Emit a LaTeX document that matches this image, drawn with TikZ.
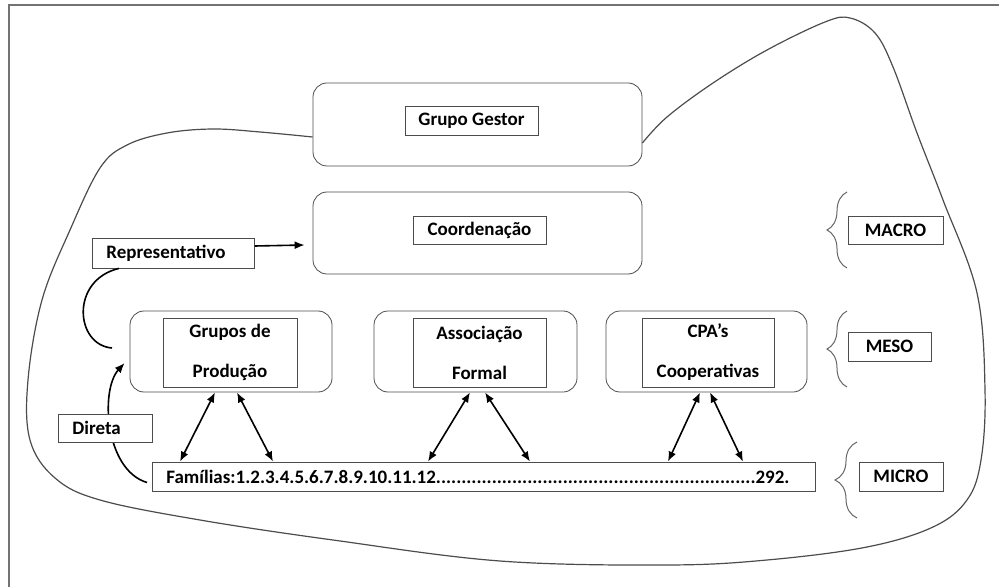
\documentclass[tikz,border=0pt]{standalone}
\usepackage{fontspec}
\setmainfont{Carlito}
\usetikzlibrary{arrows.meta,decorations.pathreplacing}

\begin{document}
\begin{tikzpicture}
    [x=0.5pt,y=-0.5pt,
     font=\bfseries\fontsize{9.5}{11}\selectfont,
     panel/.style={draw=black!70,rounded corners=7pt,inner sep=0pt},
     inbox/.style={draw=black!70,fill=white,inner sep=0pt,align=center},
     tagbox/.style={draw=black!70,fill=white,inner xsep=7pt,inner ysep=0pt,align=left},
     link/.style={{Latex[length=5pt,width=4pt]}-{Latex[length=5pt,width=4pt]},line width=0.8pt},
     bracket/.style={decorate,decoration={brace,amplitude=10pt},draw=black!60,line width=0.5pt}]

    \useasboundingbox (0,0) rectangle (999,587);

    % frame:
    \draw [black!55,line width=0.6pt] (9,587) -- (9,5) -- (999,5);

    % top panels:
    \node (gestor) at (477.5,124.5) [panel,minimum width=164.5pt,minimum height=41.5pt] {};
    \node (coord) at (477.5,233) [panel,minimum width=164.5pt,minimum height=41pt] {};
    \node (gestorlbl) at (471.5,120.5) [inbox,minimum width=66.5pt,minimum height=14.5pt] {Grupo Gestor};
    \node (coordlbl) at (479.5,230) [inbox,minimum width=66.5pt,minimum height=14pt] {Coordenação};

    % middle panels:
    \node (producao) at (231,351.5) [panel,minimum width=101pt,minimum height=40.5pt] {};
    \node (associacao) at (475.5,351.5) [panel,minimum width=101.5pt,minimum height=40.5pt] {};
    \node (cpa) at (706.5,351.5) [panel,minimum width=100.5pt,minimum height=40.5pt] {};
    \node (producaolbl) at (230,352.5) [inbox,minimum width=67pt,minimum height=34.5pt,
      font=\bfseries\fontsize{9.5}{20}\selectfont] {Grupos de\\Produção};
    \node (associacaolbl) at (479.5,352.5) [inbox,minimum width=66.5pt,minimum height=34.5pt,
      font=\bfseries\fontsize{9.5}{20}\selectfont] {Associação\\Formal};
    \node (cpalbl) at (708,352.5) [inbox,minimum width=66pt,minimum height=34.5pt,
      font=\bfseries\fontsize{9.5}{20}\selectfont] {CPA’s\\Cooperativas};

    % families:
    \node (familias) at (152,476.5) [tagbox,anchor=west,text width=317.5pt,minimum height=14.5pt]
      {Famílias:1.2.3.4.5.6.7.8.9.10.11.12...............................................................292.};

    % levels:
    \draw [bracket] (847,268) -- (847,192);
    \draw [bracket] (847,387) -- (847,311);
    \draw [bracket,decoration={brace,amplitude=11pt}] (857,518) -- (857,442);
    \node (macro) at (895.5,230) [inbox,minimum width=47.5pt,minimum height=14pt] {MACRO};
    \node (meso) at (889.5,346.5) [inbox,minimum width=41.5pt,minimum height=14.5pt] {MESO};
    \node (micro) at (901,476.5) [inbox,minimum width=42pt,minimum height=14.5pt] {MICRO};

    % big loop round everything:
    \coordinate (loopstart) at ([yshift=-6.25pt]gestor.west);
    \coordinate (loopend) at ([yshift=-9.25pt]gestor.east);
    \draw [black!70,line width=0.6pt] plot [smooth,tension=0.6] coordinates {
      (loopstart) (260,132) (213,129) (167,133) (127,145) (100,168) (70,230) (42,300)
      (28,380) (30,440) (55,478) (100,500) (200,520) (333,540) (500,561) (667,565)
      (767,560) (867,547) (933,527) (967,500) (981,460) (985,390) (977,293) (943,200)
      (917,133) (893,67) (875,33) (850,18) (825,22) (767,50) (713,83) (667,117) (loopend)};

    % double arrows to families:
    \draw [link] ([xshift=-8pt]producao.south) -- ([xshift=14pt]familias.north west);
    \draw [link] ([xshift=3pt]producao.south) -- ([xshift=60.5pt]familias.north west);
    \draw [link] ([xshift=-2.75pt]associacao.south) -- ([xshift=138pt]familias.north west);
    \draw [link] ([xshift=4.75pt]associacao.south) -- ([xshift=189pt]familias.north west);
    \draw [link] ([xshift=-3.25pt]cpa.south) -- ([xshift=258pt]familias.north west);
    \draw [link] ([xshift=1.75pt]cpa.south) -- ([xshift=295.5pt]familias.north west);

    % representativo:
    \node (repr) at (92,253) [tagbox,anchor=west,text width=67pt,minimum height=15pt] {Representativo};
    \coordinate (rtail) at (112,348);
    \draw [-{Latex[length=5pt,width=4pt]},line width=0.8pt]
      ([yshift=3.5pt]repr.east) -- ([xshift=-4pt,yshift=-6pt]coord.west);
    \draw [line width=0.8pt] ([xshift=13.5pt]repr.south west) .. controls (70,280) and (75,345) .. (rtail);

    % direta:
    \draw [-{Latex[length=5pt,width=4pt]},line width=0.8pt]
      ([xshift=-2.5pt,yshift=-3pt]familias.west) .. controls (105,470) and (100,390)
      .. ([xshift=-2.5pt,yshift=-5.75pt]producao.west);
    \node (direta) at (58,428) [tagbox,anchor=west,text width=33pt,minimum height=14pt] {Direta};

\end{tikzpicture}
\end{document}
